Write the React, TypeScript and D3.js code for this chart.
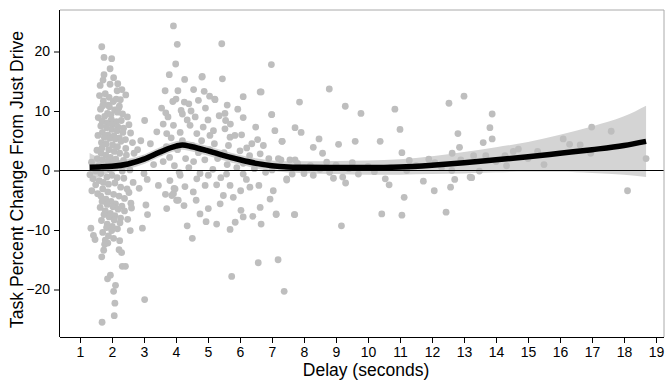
import { useEffect, useRef } from "react";
import * as d3 from "d3";

// [delay seconds, percent change]
const earlyPoints: [number, number][] = [
  [1.68, 20.8], [1.75, 19.0], [1.99, 18.8], [1.94, 17.1], [1.75, 16.1], [1.72, 15.2], [2.05, 15.6],
  [1.63, 14.3], [1.94, 14.5], [2.16, 13.4], [2.18, 14.6], [2.31, 13.6], [2.43, 12.7],
  [1.61, 12.6], [1.73, 11.7], [1.79, 12.9], [1.88, 11.0], [1.91, 12.3], [2.04, 11.6], [2.13, 12.0], [2.23, 10.8], [2.26, 11.9],
  [1.64, 10.3], [1.71, 10.9], [1.86, 9.6], [1.92, 10.7], [1.97, 9.4], [2.08, 10.2], [2.17, 9.8], [2.21, 10.5], [2.33, 9.5], [2.48, 9.0],
  [1.57, 8.9], [1.69, 8.3], [1.77, 9.1], [1.85, 8.0], [1.98, 8.6], [2.01, 7.7], [2.14, 8.2], [2.19, 7.3], [2.29, 8.4], [2.36, 7.1], [2.53, 7.7],
  [1.65, 7.5], [1.7, 6.4], [1.83, 7.2], [1.87, 6.0], [1.99, 6.9], [2.06, 5.8], [2.16, 6.7], [2.23, 5.5], [2.34, 6.4], [2.42, 5.2], [2.58, 6.3],
  [1.56, 5.9], [1.67, 4.7], [1.76, 5.6], [1.82, 4.5], [1.93, 5.4], [2.02, 4.3], [2.1, 5.3], [2.17, 4.0], [2.28, 4.9], [2.43, 3.7], [2.64, 4.7], [2.69, 2.9],
  [1.53, 3.4], [1.66, 2.9], [1.69, 3.8], [1.81, 2.6], [1.9, 3.5], [1.95, 2.2], [2.07, 3.2], [2.12, 1.9], [2.24, 2.9], [2.36, 1.7], [2.45, 2.6], [2.6, 1.3],
  [1.36, 1.4], [1.44, 0.4], [1.54, 2.0], [1.59, 0.8], [1.7, 1.8], [1.76, 0.6], [1.87, 1.6], [1.93, 0.2], [2.03, 1.3], [2.1, 0.5], [2.21, 1.2], [2.32, -0.1], [2.4, 1.0], [2.56, 0.1],
  [1.31, -0.7], [1.41, -1.4], [1.49, -0.1], [1.6, -1.7], [1.65, -0.5], [1.73, -2.0], [1.84, -1.1], [1.89, -2.3], [2.0, -0.8], [2.09, -2.1], [2.16, -1.2], [2.27, -2.8], [2.37, -1.3], [2.47, -3.1], [2.66, -2.0],
  [1.37, -3.4], [1.49, -2.4], [1.55, -3.9], [1.65, -4.3], [1.71, -3.1], [1.81, -4.8], [1.87, -3.6], [1.97, -5.2], [2.05, -4.0], [2.11, -5.6], [2.22, -4.3], [2.31, -6.0], [2.39, -4.7], [2.53, -3.7], [2.59, -5.5],
  [1.63, -6.2], [1.69, -5.2], [1.79, -6.8], [1.85, -5.7], [1.95, -7.2], [2.03, -6.1], [2.09, -7.6], [2.19, -6.5], [2.27, -8.0], [2.39, -6.8], [2.49, -8.2],
  [1.67, -8.4], [1.75, -7.4], [1.85, -9.0], [1.91, -7.8], [2.01, -9.4], [2.07, -8.3], [2.17, -9.8], [2.25, -8.8],
  [1.71, -10.4], [1.83, -9.6], [1.89, -11.0], [1.99, -10.1], [2.05, -11.4], [1.79, -11.7], [1.87, -12.2],
  [1.69, -25.5], [2.07, -24.4], [2.09, -22.3], [2.05, -20.3], [2.11, -19.3], [1.86, -18.2], [1.95, -17.6], [2.32, -16.1], [2.42, -16.1],
  [3.02, -21.7], [2.3, -13.8], [2.22, -13.3], [1.68, -14.5], [1.74, -13.4], [1.77, -12.4], [1.47, -11.6], [1.34, -9.7], [1.42, -10.9],
  [2.24, -11.8], [2.57, -10.1], [2.95, -9.7], [3.11, -7.4], [3.06, -5.8], [2.61, -6.3], [3.02, 8.4],
  [2.8, 3.5], [2.9, 5.0], [3.0, 2.0], [3.1, -1.5], [3.2, 4.5], [3.3, 1.0], [3.4, 6.5], [3.45, -2.5], [2.85, -3.0], [3.0, -0.5],
];

const midPoints: [number, number][] = [
  [3.71, -6.4], [3.67, -4.0], [3.81, -1.7], [3.87, -4.2], [4.02, -5.0], [3.94, -3.0],
  [3.92, 24.3], [4.04, 21.2], [5.43, 21.3], [3.99, 17.9], [6.98, 17.8], [3.79, 16.1], [4.27, 15.3], [4.82, 15.8], [5.45, 15.4],
  [3.66, 13.4], [4.06, 13.4], [4.55, 13.6], [4.88, 13.3], [6.63, 13.2], [3.9, 11.6], [4.26, 11.5], [5.22, 11.9],
  [3.68, 9.7], [4.16, 10.1], [4.47, 10.0], [4.92, 10.5], [5.53, 9.6], [5.93, 10.3], [6.1, 8.9], [6.99, 9.4], [5.55, 8.4],
  [6.49, 7.3], [7.09, 6.7], [7.31, 4.9], [3.6, 7.8], [3.92, 7.6], [4.44, 7.6], [4.85, 7.3], [5.17, 6.7], [5.53, 7.0],
  [5.69, 5.6], [5.84, 5.9], [6.05, 6.0], [6.37, 4.5], [6.73, 4.2], [6.63, 2.8], [6.21, 3.8], [5.64, 4.2], [5.06, 5.9],
  [4.65, 6.2], [4.13, 6.4], [3.71, 6.2], [4.81, 15.7], [5.21, 12.0], [6.66, 13.2], [6.99, 9.4],
  [4.25, -5.9], [4.63, -5.0], [4.75, -7.3], [5.01, -6.4], [5.27, -9.0], [4.94, -8.6], [4.35, -9.3], [4.51, -11.4],
  [5.69, -9.9], [5.85, -8.7], [6.1, -7.8], [6.4, -7.7], [6.66, -9.0], [7.13, -7.3], [6.57, -15.5], [7.19, -15.0],
  [5.74, -17.8], [7.38, -20.3], [3.92, -3.9], [4.28, -2.7], [4.54, -3.6], [4.91, -2.5], [5.27, -2.4], [5.48, -4.2],
  [5.69, -2.5], [5.79, -4.5], [6.02, -3.4], [6.03, -6.7], [6.31, -2.8], [6.59, -2.5], [6.63, -6.2], [6.94, -4.8],
  [7.04, -3.4], [5.38, -5.6], [4.07, -5.0], [3.97, -3.1], [4.65, -1.4], [5.01, -0.8], [5.58, -0.6], [6.1, -0.6],
  [4.13, -0.8], [7.46, -1.4],
  [3.5, 3.0], [3.6, 1.5], [3.7, 4.0], [3.8, 2.2], [3.85, 5.5], [3.95, 0.8], [4.05, 3.5], [4.1, -0.3], [4.2, 5.0],
  [4.3, 2.0], [4.35, 8.5], [4.4, 0.5], [4.5, 4.2], [4.55, 1.5], [4.6, 9.0], [4.7, 3.0], [4.75, -0.5], [4.8, 5.0],
  [4.9, 1.8], [5.0, 8.5], [5.05, 3.5], [5.15, 0.2], [5.2, 4.5], [5.3, 2.0], [5.35, 9.2], [5.4, -1.2], [5.5, 3.0],
  [5.6, 1.0], [5.7, 7.8], [5.75, 2.2], [5.9, 0.5], [6.0, 3.3], [6.1, 1.2], [6.2, -1.5], [6.3, 2.5], [6.45, 0.3],
  [6.55, 5.2], [6.7, 1.0], [6.8, -0.3], [6.9, 2.0], [3.55, 10.5], [3.75, 9.0], [4.0, 12.0], [4.2, 9.5], [4.4, 11.2],
  [4.7, 11.8], [5.05, 12.5], [5.6, 11.0], [6.1, 12.4],
  [7.13, -7.4], [7.71, -7.4], [7.28, 1.8], [7.2, 2.0], [7.0, 0.1],
];

const latePoints: [number, number][] = [
  [8.79, 13.7], [7.86, 11.5], [9.29, 10.8], [9.78, 9.6], [10.84, 10.3], [12.53, 11.3], [13.0, 12.5],
  [7.72, 7.2], [7.91, 6.4], [11.0, 6.9], [12.81, 6.2], [7.32, 4.9], [8.47, 5.3], [8.29, 3.9], [9.08, 4.4],
  [9.6, 4.9], [10.38, 4.9], [12.86, 3.9], [8.58, 2.9], [11.06, 3.0], [12.63, 2.9], [7.56, 1.8], [7.72, 1.8],
  [8.71, 1.4], [9.51, 1.3], [11.29, 1.7], [12.09, 1.3], [7.46, -1.6], [7.63, -0.6], [8.29, -0.8], [8.92, -1.3],
  [9.21, -1.1], [9.3, -2.1], [10.54, -1.4], [10.66, -2.4], [11.21, 0.0], [11.73, -1.8], [12.07, -3.4], [11.13, -4.5],
  [12.58, -2.8], [12.71, -1.5], [13.22, -1.2], [7.7, -7.4], [9.17, -9.3], [10.43, -7.3], [11.06, -7.5], [12.44, -7.0],
  [12.62, 0.0], [7.5, 0.5], [7.8, 1.2], [8.0, -0.5], [8.2, 0.8], [8.5, 0.2], [8.8, -0.3], [9.0, 0.9], [9.4, 0.3],
  [9.7, -0.6], [10.0, 0.7], [10.2, -0.2], [10.7, 0.5], [11.5, 0.8], [11.9, 1.9], [12.3, 0.5], [12.9, 1.8],
  [13.88, 9.5], [13.81, 7.2], [13.88, 5.3], [13.6, 4.7], [13.68, 2.5], [14.28, 2.5], [14.54, 3.2], [14.7, 3.6],
  [14.33, 0.8], [13.48, -0.1], [13.24, -1.2], [13.19, -1.1], [13.3, 2.5], [14.0, 1.5],
  [15.0, 2.0], [15.3, 3.2], [15.5, 1.0], [16.1, 5.3], [16.3, 4.4], [16.63, 4.3], [16.99, 7.3], [17.6, 6.6],
  [16.96, 2.9], [18.69, 2.0], [18.11, -3.4],
];

// loess fit: [delay, fit, half width of band]
const smoothFit: [number, number, number][] = [
  [1.3, 0.56, 2.4], [1.6, 0.6, 1.6], [2.0, 0.7, 1.0], [2.5, 1.1, 0.85], [3.0, 1.9, 0.8], [3.5, 3.1, 0.8],
  [4.0, 4.1, 0.8], [4.2, 4.3, 0.8], [4.5, 4.0, 0.8], [5.0, 3.3, 0.8], [5.5, 2.5, 0.8], [6.0, 1.8, 0.8],
  [6.5, 1.2, 0.85], [7.0, 0.8, 0.9], [7.5, 0.6, 0.95], [8.0, 0.55, 1.0], [9.0, 0.5, 1.1], [10.0, 0.5, 1.2],
  [11.0, 0.6, 1.3], [12.0, 0.9, 1.5], [13.0, 1.3, 1.8], [14.0, 1.8, 2.1], [15.0, 2.3, 2.5], [16.0, 2.9, 3.1],
  [17.0, 3.5, 3.9], [18.0, 4.2, 4.9], [18.69, 4.9, 6.0],
];

const xTicks = d3.range(1, 20);
const yTicks = [-20, -10, 0, 10, 20];

const App = () => {
  const svgRef = useRef<SVGSVGElement>(null);
  const width = 665;
  const height = 381;

  useEffect(() => {
    const svg = d3.select(svgRef.current);
    svg.selectAll("*").remove();

    const left = 60, right = 664, top = 10, bottom = 337;
    const x = d3.scaleLinear().domain([1, 19]).range([80, 656]);
    const y = d3.scaleLinear().domain([-20, 20]).range([289.5, 51.5]);
    const font = "'Liberation Sans', Arial, sans-serif";

    // band
    const area = d3.area<[number, number, number]>()
      .x(d => x(d[0]))
      .y0(d => y(d[1] - d[2]))
      .y1(d => y(d[1] + d[2]))
      .curve(d3.curveMonotoneX);
    svg.append("path").datum(smoothFit).attr("d", area).attr("fill", "#d4d4d4");

    const all = [...earlyPoints, ...midPoints, ...latePoints];
    svg.append("g").selectAll("circle")
      .data(all)
      .enter()
      .append("circle")
      .attr("cx", d => x(d[0]))
      .attr("cy", d => y(d[1]))
      .attr("r", 3.4)
      .attr("fill", "#bebebe");

    // zero line
    svg.append("line")
      .attr("x1", left).attr("x2", right)
      .attr("y1", y(0)).attr("y2", y(0))
      .attr("stroke", "#000").attr("stroke-width", 1);

    const line = d3.line<[number, number, number]>()
      .x(d => x(d[0]))
      .y(d => y(d[1]))
      .curve(d3.curveMonotoneX);
    svg.append("path").datum(smoothFit).attr("d", line)
      .attr("fill", "none").attr("stroke", "#000").attr("stroke-width", 5.5);

    // frame
    svg.append("line").attr("x1", left).attr("x2", right).attr("y1", top).attr("y2", top)
      .attr("stroke", "#aaa");
    svg.append("line").attr("x1", right).attr("x2", right).attr("y1", top).attr("y2", bottom)
      .attr("stroke", "#aaa");

    const xAxis = svg.append("g").attr("transform", `translate(0 ${bottom})`)
      .call(d3.axisBottom(x).tickValues(xTicks).tickSize(6).tickPadding(4).tickFormat(d3.format("d")));
    xAxis.select(".domain").attr("d", `M${left},0.5H${right}`).attr("stroke", "#000");
    xAxis.selectAll("text").attr("font-family", font).attr("font-size", 14).attr("fill", "#000");

    const yAxis = svg.append("g").attr("transform", `translate(${left} 0)`)
      .call(d3.axisLeft(y).tickValues(yTicks).tickSize(6).tickPadding(4));
    yAxis.select(".domain").attr("d", `M-0.5,${top}V${bottom}`).attr("stroke", "#000");
    yAxis.selectAll("text").attr("font-family", font).attr("font-size", 14).attr("fill", "#000");

    svg.append("text")
      .attr("x", 366).attr("y", 376)
      .attr("text-anchor", "middle")
      .attr("font-family", font).attr("font-size", 17.5)
      .text("Delay (seconds)");

    svg.append("text")
      .attr("transform", `translate(23 ${(top + bottom) / 2 + 6}) rotate(-90)`)
      .attr("text-anchor", "middle")
      .attr("font-family", font).attr("font-size", 17.6)
      .text("Task Percent Change From Just Drive");
  }, []);

  return (
    <svg ref={svgRef} width={width} height={height}
      style={{ position: "absolute", left: 0, top: 0 }} />
  );
};

export default App;
